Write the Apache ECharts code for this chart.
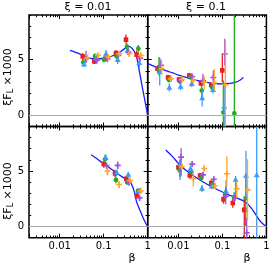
<!DOCTYPE html>
<html><head><meta charset="utf-8">
<script src="https://cdn.jsdelivr.net/npm/echarts@6/dist/echarts.min.js"></script>
<style>html,body{margin:0;padding:0;background:#fff}#c{width:269px;height:264px}</style>
</head><body><div id="c"></div>
<script>
// ---------- DATA ----------
const panelTitles = ['ξ = 0.01', 'ξ = 0.1'];
const xTickLabels = ['0.01', '0.1', '1'];
const xMajorTicks = [0.01, 0.1, 1];
const xMinorTicks = [0.002,0.003,0.004,0.005,0.006,0.007,0.008,0.009,
                     0.02,0.03,0.04,0.05,0.06,0.07,0.08,0.09,
                     0.2,0.3,0.4,0.5,0.6,0.7,0.8,0.9];
const yTickLabels = ['0', '5'];
const yMajorTicks = [0, 5];
const yMinorTicks = [-1,1,2,3,4,6,7,8,9];

// each point: [beta, value, errLow, errHigh]
// top-left (xi = 0.01)
const redTL    = [[0.0333,5.28,4.95,5.6],[0.0611,4.84,4.6,5.1],[0.109,5.08,4.85,5.3],[0.19,5.59,5.35,5.85],[0.321,6.79,6.35,7.25],[0.562,5.45,5.1,5.8]];
const greenTL  = [[0.0344,4.75,4.5,5.0],[0.0635,5.3,5.05,5.55],[0.101,5.0,4.75,5.25],[0.197,5.3,5.05,5.55],[0.338,6.13,5.85,6.45],[0.612,5.98,5.7,6.3]];
const blueTL   = [[0.0357,4.57,4.35,4.8],[0.067,5.08,4.85,5.3],[0.113,5.53,5.2,5.85],[0.208,4.99,4.6,5.3],[0.351,5.83,5.5,6.15],[0.644,4.72,4.2,5.1]];
const purpleTL = [[0.0396,5.08,4.7,5.8],[0.0695,4.93,4.7,5.2],[0.121,5.04,4.8,5.3],[0.215,5.38,5.15,5.6],[0.362,5.68,5.4,5.95],[0.668,5.13,4.85,5.4]];
const orangeTL = [[0.0424,5.17,4.95,5.4],[0.074,5.38,5.15,5.6],[0.127,5.23,5.0,5.45],[0.226,5.53,5.3,5.75],[0.381,5.53,5.25,5.8],[0.693,5.38,5.1,5.65]];
// top-right (xi = 0.1)
const redTR    = [[0.00335,4.18,3.85,4.5],[0.00581,3.4,3.15,3.65],[0.0103,3.22,3.0,3.45],[0.0177,3.58,3.35,3.8],[0.0324,2.85,2.6,3.1],[0.0559,2.72,2.45,3.0],[0.0995,4.03,2.97,5.53]];
const greenTR  = [[0.0036,4.03,3.58,5.22],[0.00602,3.19,2.95,3.45],[0.0107,3.06,2.8,3.3],[0.0189,3.42,3.2,3.65],[0.0338,2.22,1.6,2.75],[0.0589,2.5,2.25,2.75],[0.105,0.27,-3,3.13],[0.187,0.18,-3,12]];
const blueTR   = [[0.00375,3.9,2.68,5.22],[0.00621,2.5,2.15,2.85],[0.0112,2.59,2.25,2.9],[0.02,2.83,2.55,3.1],[0.0346,1.55,0.8,2.2],[0.0611,2.3,1.95,2.65],[0.11,0.78,-3,2.83]];
const purpleTR = [[0.00401,4.48,4.1,5.0],[0.00644,3.3,3.05,3.55],[0.0114,3.15,2.9,3.4],[0.0205,3.49,3.25,3.7],[0.0362,3.13,2.7,3.73],[0.0621,3.4,2.9,4.03],[0.113,5.5,4.48,6.88]];
const orangeTR = [[0.00415,4.18,3.6,4.9],[0.00679,3.28,3.0,3.6],[0.0121,3.22,2.95,3.5],[0.0219,3.16,2.85,3.45],[0.0385,2.97,2.3,3.5],[0.0654,2.9,2.23,4.18],[0.117,2.75,-3,6.73]];
// bottom-left
const redBL    = [[0.1005,5.62,5.3,5.95],[0.181,4.77,4.45,5.1],[0.326,4.3,4.05,4.55],[0.571,2.77,2.5,3.05]];
const greenBL  = [[0.107,6.05,5.7,6.45],[0.19,4.2,3.9,4.5],[0.338,4.0,3.75,4.25],[0.602,3.2,2.95,3.45]];
const blueBL   = [[0.111,6.2,5.9,6.5],[0.197,4.86,4.6,5.1],[0.362,4.68,4.45,4.9],[0.634,3.22,3.0,3.45]];
const purpleBL = [[0.116,5.47,5.2,5.75],[0.208,5.5,5.15,5.85],[0.376,3.96,3.7,4.2],[0.651,2.58,2.3,2.85]];
const orangeBL = [[0.122,5.0,4.6,5.35],[0.223,3.78,3.45,4.1],[0.396,4.15,3.9,4.4],[0.693,3.2,2.95,3.5]];
// bottom-right
const redBR    = [[0.01,5.32,5.0,5.65],[0.0181,4.6,4.3,4.9],[0.031,4.6,4.35,4.85],[0.0559,3.92,3.65,4.2],[0.106,2.45,2.05,2.85],[0.172,2.12,1.7,2.55],[0.314,1.5,-3,2.45]];
const greenBR  = [[0.0107,5.05,4.48,5.98],[0.0194,4.95,4.65,5.25],[0.033,4.37,4.1,4.65],[0.0601,3.73,3.45,4.0],[0.115,2.88,2.45,3.3],[0.185,2.65,2.2,3.1],[0.338,2.55,0.0,4.48]];
const blueBR   = [[0.0109,5.65,4.18,6.13],[0.0188,5.2,4.9,5.5],[0.0343,3.42,3.1,3.75],[0.0571,3.62,3.35,3.9],[0.121,3.18,2.6,4.2],[0.199,4.22,2.85,4.55],[0.344,4.6,2.5,6.82],[0.602,4.63,-3,12]];
const purpleBR = [[0.0115,6.25,4.5,7.05],[0.0206,5.62,5.35,5.9],[0.036,4.65,4.4,4.9],[0.0636,4.25,4.0,4.5],[0.119,2.72,2.0,3.6],[0.192,2.6,2.3,2.9],[0.357,-0.55,-3,0.8]];
const orangeBR = [[0.0119,5.38,5.05,5.7],[0.0219,4.3,3.6,4.95],[0.0385,5.22,4.95,5.5],[0.0679,3.65,3.35,3.95],[0.126,4.75,3.6,6.3],[0.211,3.4,2.6,4.0],[0.372,3.3,0.6,6.06]];

// theory curves [beta, value]
const curveTL = [[0.017,5.83],[0.025,5.6],[0.035,5.35],[0.05,5.12],[0.07,5.05],[0.1,5.12],[0.15,5.3],[0.2,5.5],[0.27,5.85],[0.33,6.1],[0.38,6.18],[0.43,6.05],[0.5,5.7],[0.56,5.25],[0.65,3.9],[0.75,2.58],[0.87,1.25],[1,0]];
const curveTR = [[0.002,4.63],[0.003,4.35],[0.005,4.03],[0.0075,3.8],[0.01,3.6],[0.015,3.4],[0.02,3.25],[0.03,3.08],[0.04,2.98],[0.06,2.88],[0.1,2.83],[0.15,2.87],[0.2,2.97],[0.25,3.15],[0.3,3.4]];
const curveBL = [[0.0514,6.46],[0.07,6.1],[0.1,5.65],[0.14,5.25],[0.2,4.8],[0.27,4.45],[0.36,4.15],[0.43,3.8],[0.5,3.1],[0.56,2.2],[0.668,1.47],[0.79,0.77],[0.9,0.3],[1,0]];
const curveBR = [[0.00514,6.88],[0.0075,6.25],[0.01,5.68],[0.015,5.05],[0.0238,4.48],[0.035,4.05],[0.0571,3.58],[0.09,3.2],[0.136,2.88],[0.2,2.6],[0.326,2.23],[0.463,1.62],[0.655,0.72],[0.8,0.3],[1,0]];

// ---------- STYLE / LAYOUT ----------
const FONT = 'DejaVu Sans';
const X_MIN = 0.002, X_MAX = 1, Y_MIN = -1, Y_MAX = 9;
const styles = [
  {color:'#ee1c1c', shape:'square'},
  {color:'#22aa22', shape:'circle'},
  {color:'#3a9cff', shape:'triangle'},
  {color:'#a050e0', shape:'plus'},
  {color:'#ffa52a', shape:'plus'}
];
const panels = [
  {grid:{left:29, top:15, width:118.7, height:111.5}, sets:[redTL,greenTL,blueTL,purpleTL,orangeTL], curve:curveTL, xl:false, yl:true},
  {grid:{left:147.7, top:15, width:118.7, height:111.5}, sets:[redTR,greenTR,blueTR,purpleTR,orangeTR], curve:curveTR, xl:false, yl:false},
  {grid:{left:29, top:126.5, width:118.7, height:111.2}, sets:[redBL,greenBL,blueBL,purpleBL,orangeBL], curve:curveBL, xl:true, yl:true},
  {grid:{left:147.7, top:126.5, width:118.7, height:111.2}, sets:[redBR,greenBR,blueBR,purpleBR,orangeBR], curve:curveBR, xl:true, yl:false}
];

function xFmt(v){
  for (let i=0;i<xMajorTicks.length;i++)
    if (Math.abs(Math.log10(v)-Math.log10(xMajorTicks[i]))<0.01) return xTickLabels[i];
  return '';
}
function yFmt(v){
  const i = yMajorTicks.indexOf(Math.round(v*1000)/1000);
  return i>=0 ? yTickLabels[i] : '';
}

function marker(shape, x, y, col){
  if (shape==='square') return {type:'rect', shape:{x:x-2.3,y:y-2.3,width:4.6,height:4.6}, style:{fill:col}};
  if (shape==='circle') return {type:'circle', shape:{cx:x,cy:y,r:2.4}, style:{fill:col}};
  if (shape==='triangle') return {type:'polygon', shape:{points:[[x,y-3],[x+3,y+2.2],[x-3,y+2.2]]}, style:{fill:col}};
  return {type:'group', children:[
    {type:'line', shape:{x1:x-3,y1:y,x2:x+3,y2:y}, style:{stroke:col,lineWidth:1.6}},
    {type:'line', shape:{x1:x,y1:y-3,x2:x,y2:y+3}, style:{stroke:col,lineWidth:1.6}}]};
}

function errSeries(xi, yi, data, st, z){
  return {type:'custom', xAxisIndex:xi, yAxisIndex:yi, clip:true, silent:true, z:z,
    encode:{x:0,y:1}, data:data,
    renderItem(params, api){
      const xv = api.value(0);
      const c = api.coord([xv, api.value(1)]);
      const a = api.coord([xv, api.value(2)]);
      const b = api.coord([xv, api.value(3)]);
      return {type:'group', children:[
        {type:'line', shape:{x1:c[0],y1:a[1],x2:c[0],y2:b[1]}, style:{stroke:st.color, lineWidth:1.3}},
        marker(st.shape, c[0], c[1], st.color)]};
    }};
}

const tickStyle = {color:'#000', width:1};
const noLine = {show:false, onZero:false};
const grid = [], xAxis = [], yAxis = [], series = [];
panels.forEach((p, g) => {
  grid.push(Object.assign({show:true, borderColor:'#000', borderWidth:1.5, containLabel:false, outerBoundsMode:'none'}, p.grid));
  const xBase = {type:'log', logBase:10, gridIndex:g, min:X_MIN, max:X_MAX,
    axisLine:noLine, splitLine:{show:false}, minorTick:{show:false}};
  // major x ticks (bottom with labels, top mirrored)
  xAxis.push(Object.assign({}, xBase, {position:'bottom',
    axisTick:{show:true, inside:true, length:4, lineStyle:tickStyle},
    axisLabel:{show:p.xl, formatter:xFmt, fontSize:10, fontFamily:FONT, color:'#000', margin:4}}));
  xAxis.push(Object.assign({}, xBase, {position:'top',
    axisTick:{show:true, inside:true, length:4, lineStyle:tickStyle}, axisLabel:{show:false}}));
  // minor x ticks
  xAxis.push(Object.assign({}, xBase, {position:'bottom',
    axisTick:{show:true, inside:true, length:2.2, lineStyle:tickStyle, customValues:xMinorTicks}, axisLabel:{show:false}}));
  xAxis.push(Object.assign({}, xBase, {position:'top',
    axisTick:{show:true, inside:true, length:2.2, lineStyle:tickStyle, customValues:xMinorTicks}, axisLabel:{show:false}}));
  const yBase = {type:'value', gridIndex:g, min:Y_MIN, max:Y_MAX, interval:1,
    axisLine:noLine, splitLine:{show:false}};
  // minor y ticks (every unit), left with labels
  yAxis.push(Object.assign({}, yBase, {position:'left',
    axisTick:{show:true, inside:true, length:2.2, lineStyle:tickStyle},
    axisLabel:{show:p.yl, formatter:yFmt, fontSize:10, fontFamily:FONT, color:'#000', margin:5}}));
  yAxis.push(Object.assign({}, yBase, {position:'right',
    axisTick:{show:true, inside:true, length:2.2, lineStyle:tickStyle}, axisLabel:{show:false}}));
  // major y ticks at 0 and 5
  yAxis.push(Object.assign({}, yBase, {position:'left',
    axisTick:{show:true, inside:true, length:4, lineStyle:tickStyle, customValues:yMajorTicks}, axisLabel:{show:false}}));
  yAxis.push(Object.assign({}, yBase, {position:'right',
    axisTick:{show:true, inside:true, length:4, lineStyle:tickStyle, customValues:yMajorTicks}, axisLabel:{show:false}}));

  const xi = 4*g, yi = 4*g;
  series.push({type:'line', xAxisIndex:xi, yAxisIndex:yi, data:p.curve, smooth:0.25, showSymbol:false,
    silent:true, z:2, lineStyle:{color:'#1a1aff', width:1.3},
    markLine:{silent:true, symbol:'none', label:{show:false}, animation:false,
      lineStyle:{color:'#aaaaaa', width:1, type:'solid'}, data:[{yAxis:0}]}});
  p.sets.forEach((d, k) => series.push(errSeries(xi, yi, d, styles[k], 3 + k*0.1)));
});

const ylab = (y) => ({type:'text', x:8, y:y, rotation:Math.PI/2,
  style:{text:'ξF{s|L} ×1000', fontSize:11, fontFamily:FONT, fill:'#000', lineHeight:14,
    align:'center', verticalAlign:'middle', textAlign:'center', textVerticalAlign:'middle',
    rich:{s:{fontSize:8, fontFamily:FONT, lineHeight:8, verticalAlign:'bottom', fill:'#000'}}}});
const txt = (s, x, y) => ({type:'text', x:x, y:y,
  style:{text:s, fontSize:11, fontFamily:FONT, fill:'#000', align:'center', verticalAlign:'middle',
    textAlign:'center', textVerticalAlign:'middle'}});

const chart = echarts.init(document.getElementById('c'), null, {renderer:'canvas'});
chart.setOption({
  animation:false,
  backgroundColor:'#fff',
  grid, xAxis, yAxis, series,
  graphic:[
    txt(panelTitles[0], 88, 7), txt(panelTitles[1], 206, 7),
    ylab(77), ylab(191),
    txt('β', 132, 258), txt('β', 247, 258)
  ]
});
</script></body></html>
